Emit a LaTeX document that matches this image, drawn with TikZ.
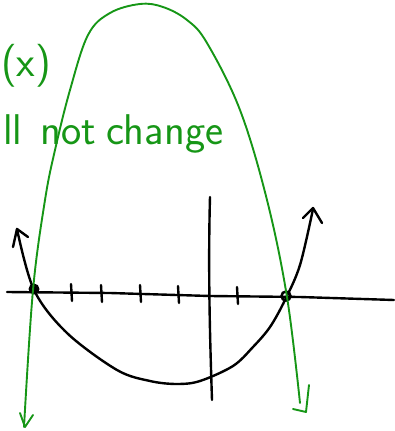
\documentclass[tikz,border=0pt]{standalone}
\usepackage{xcolor}
\definecolor{pen}{RGB}{22,150,22}
\tikzset{
  ink/.style={line width=2.4pt,line cap=round,line join=round,black},
  gink/.style={line width=1.9pt,line cap=round,line join=round,pen},
  hand/.style={text=pen,font=\sffamily\fontsize{43}{46}\selectfont,inner sep=0pt,anchor=base west}
}
\begin{document}
\begin{tikzpicture}[x=1pt,y=-1pt]
\useasboundingbox (0,0) rectangle (394,431);
% axes
\draw[ink] (7,292) -- (110,293) -- (210,296) -- (300,297) -- (394,300);
\draw[ink] (210,197) .. controls (208,270) and (210,340) .. (212,400);
% ticks
\foreach \x/\y in {71/293,101/294,140/294,178/295,237/296}
  \draw[ink] (\x,\y-9) -- (\x+1,\y+8);
% black parabola
\draw[ink] plot[smooth,tension=0.55] coordinates {(17,229) (34,290) (67,333) (117,370) (150,381) (177,384) (200,381) (233,366) (253,347) (270,327) (285,300) (300,265) (313,209)};
\draw[ink] (13,247) -- (17,229) -- (28,237);
\draw[ink] (303,218) -- (313,208) -- (322,223);
% intercept dots
\node[circle,fill=black,inner sep=0pt,minimum size=11pt] (d1) at (34,289) {};
\node[circle,draw=black,line width=2.5pt,inner sep=0pt,minimum size=9pt] (d2) at (286,296) {};
% green parabola
\draw[gink] plot[smooth,tension=0.6] coordinates {(24,427) (33,290) (45,200) (55,150) (70,90) (88,35) (110,13) (140,4) (163,7) (187,20) (207,43) (240,110) (267,200) (287,297) (300,403)};
\draw[gink] (20,413) -- (25,427) -- (33,415);
\draw[gink] (309,385) -- (306,412) -- (293,409);
% text
\node[hand] (t1) at (1,76) {(x)};
\node[hand] (t2) at (3,144) {ll\hspace{18pt}not\hspace{10pt}change};
\end{tikzpicture}
\end{document}
